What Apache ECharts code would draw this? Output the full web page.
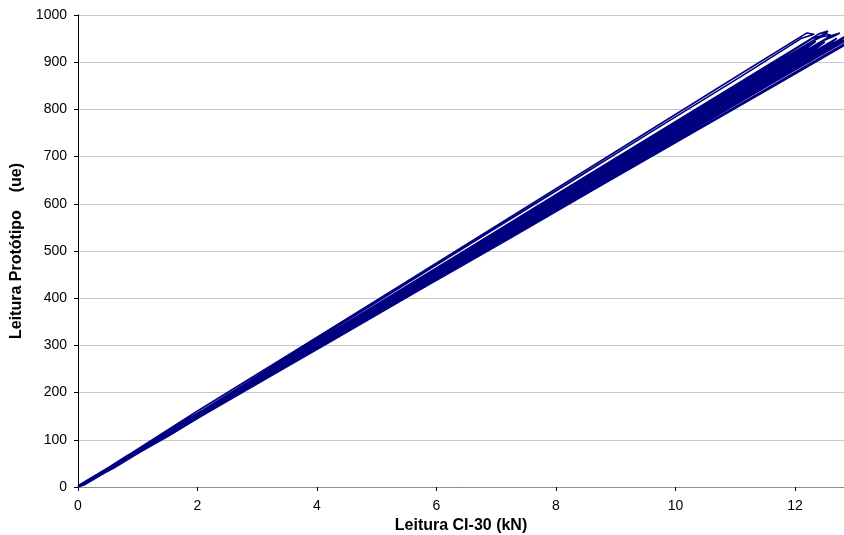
<!DOCTYPE html>
<html>
<head>
<meta charset="utf-8">
<script src="https://cdn.jsdelivr.net/npm/echarts@6/dist/echarts.min.js"></script>
<style>
  html, body { margin: 0; padding: 0; background: #fff; }
  #chart { width: 844px; height: 535px; }
</style>
</head>
<body>
<div id="chart"></div>
<script>
// Load cycles: each cycle is a loading branch followed by an unloading branch,
// pairs of [CI-30 reading (kN), prototype reading (ue)].
const cycleALoad = [[0,0],[0.8,64],[2.0,161],[3.5,278],[5.0,396],[6.5,514],[8.0,632],[9.5,750],[11.0,868],[12.2,962],[12.32,959]];
const cycleAUnload = [[12.1,950],[11.1,870],[9.6,753],[8.1,635],[6.6,518],[5.1,400],[3.6,282],[2.1,164],[0.9,72],[0,1]];
const cycleBLoad = [[0,0],[0.9,68],[2.1,163],[3.6,279],[5.1,395],[6.6,511],[8.1,627],[9.6,743],[11.1,859],[12.4,960],[12.55,966],[12.5,958]];
const cycleBUnload = [[12.3,951],[11.3,871],[9.8,755],[8.3,640],[6.8,524],[5.3,409],[3.8,293],[2.3,177],[1.1,86],[0.1,6]];
const cycleCLoad = [[0,3],[0.7,56],[1.9,146],[3.4,262],[4.9,377],[6.4,492],[7.9,607],[9.4,723],[10.9,838],[12.5,961],[12.6,957],[12.45,954]];
const cycleCUnload = [[12.35,948],[11.5,881],[10.0,766],[8.5,651],[7.0,536],[5.5,422],[4.0,306],[2.5,190],[1.2,90],[0,0]];
const cycleDLoad = [[0,0],[0.8,65],[2.0,155],[3.5,269],[5.0,382],[6.5,497],[8.0,611],[9.5,726],[11.0,840],[12.35,944]];
const cycleDUnload = [[12.2,930],[11.2,852],[9.7,738],[8.2,624],[6.7,510],[5.2,396],[3.7,282],[2.2,170],[1.0,78],[0.1,8]];
const cycleELoad = [[0,0],[0.6,43],[1.8,135],[3.3,250],[4.8,364],[6.3,478],[7.8,592],[9.3,706],[10.8,820],[12.6,956],[12.75,962],[12.65,955]];
const cycleEUnload = [[12.5,947],[12.1,915],[10.6,801],[9.1,688],[7.6,575],[6.1,461],[4.6,348],[3.1,234],[1.6,118],[0.4,28]];
const cycleFLoad = [[0,0],[0.9,70],[2.2,168],[3.7,279],[5.2,392],[6.7,505],[8.2,618],[9.7,731],[11.2,845],[12.5,943]];
const cycleFUnload = [[12.35,928],[11.3,849],[9.8,736],[8.3,623],[6.8,511],[5.3,398],[3.8,285],[2.3,170],[1.0,72],[0,0]];
const cycleGLoad = [[0,2],[0.7,50],[1.9,142],[3.4,255],[4.9,367],[6.4,479],[7.9,592],[9.4,704],[10.9,816],[12.7,951]];
const cycleGUnload = [[12.6,940],[11.9,888],[10.4,776],[8.9,664],[7.4,552],[5.9,440],[4.4,328],[2.9,216],[1.4,108],[0.2,15]];
const cycleHLoad = [[0,0],[0.8,60],[2.0,149],[3.5,260],[5.0,372],[6.5,484],[8.0,595],[9.5,707],[11.0,818],[12.85,956]];
const cycleHUnload = [[12.75,945],[12.0,889],[10.5,778],[9.0,667],[7.5,556],[6.0,445],[4.5,333],[3.0,222],[1.5,107],[0,0]];
const cycleILoad = [[0,0],[0.6,40],[1.8,133],[3.3,244],[4.8,355],[6.3,466],[7.8,576],[9.3,687],[10.8,798],[12.3,909],[12.95,957]];
const cycleIUnload = [[12.8,942],[11.6,854],[10.1,743],[8.6,633],[7.1,523],[5.6,412],[4.1,302],[2.6,191],[1.1,78],[0.1,4]];
const cycleJLoad = [[0,0],[0.7,49],[1.9,138],[3.4,248],[4.9,358],[6.4,468],[7.9,578],[9.4,688],[10.9,798],[12.4,908],[13.0,952]];
const cycleJUnload = [[12.9,941],[11.7,853],[10.2,744],[8.7,635],[7.2,525],[5.7,416],[4.2,306],[2.7,197],[1.2,86],[0,0]];

const cycles = [
  cycleALoad, cycleAUnload, cycleBLoad, cycleBUnload,
  cycleCLoad, cycleCUnload, cycleDLoad, cycleDUnload,
  cycleELoad, cycleEUnload, cycleFLoad, cycleFUnload,
  cycleGLoad, cycleGUnload, cycleHLoad, cycleHUnload,
  cycleILoad, cycleIUnload, cycleJLoad, cycleJUnload
];

const xTicks = [0, 2, 4, 6, 8, 10, 12];
const yTicks = [0, 100, 200, 300, 400, 500, 600, 700, 800, 900, 1000];

// the whole record is one continuous trace
const trace = [].concat(...cycles);

const font = 'Liberation Sans, Arial, sans-serif';
const chart = echarts.init(document.getElementById('chart'), null, { renderer: 'canvas' });

chart.setOption({
  animation: false,
  backgroundColor: '#ffffff',
  grid: { left: 78, right: 0, top: 15, bottom: 48, containLabel: false, outerBoundsMode: 'none' },
  xAxis: [{
    type: 'value',
    min: 0,
    max: 12.82,
    interval: 2,
    name: 'Leitura CI-30 (kN)',
    nameLocation: 'middle',
    nameGap: 30,
    nameTextStyle: { fontFamily: font, fontSize: 16, fontWeight: 'bold', color: '#000' },
    axisLine: { show: true, onZero: false, lineStyle: { color: '#000', width: 1 } },
    axisTick: { show: true, length: 4, lineStyle: { color: '#000' } },
    axisLabel: {
      fontFamily: font, fontSize: 14, color: '#000', margin: 12,
      showMaxLabel: false,
      formatter: v => (xTicks.indexOf(v) >= 0 ? String(v) : '')
    },
    splitLine: { show: false }
  }, {
    // plot-area top border
    type: 'value',
    position: 'top',
    min: 0,
    max: 12.82,
    axisLine: { show: true, lineStyle: { color: '#8c8c8c', width: 1 } },
    axisTick: { show: false },
    axisLabel: { show: false },
    splitLine: { show: false }
  }],
  yAxis: {
    type: 'value',
    min: 0,
    max: 1000,
    interval: 100,
    name: 'Leitura Protótipo    (ue)',
    nameLocation: 'middle',
    nameGap: 52,
    nameTextStyle: { fontFamily: font, fontSize: 16, fontWeight: 'bold', color: '#000' },
    axisLine: { show: true, lineStyle: { color: '#000', width: 1 } },
    axisTick: { show: true, length: 4, lineStyle: { color: '#000' } },
    axisLabel: {
      fontFamily: font, fontSize: 14, color: '#000', margin: 11,
      formatter: v => (yTicks.indexOf(v) >= 0 ? String(v) : '')
    },
    splitLine: { show: true, lineStyle: { color: '#c8c8c8', width: 1 } }
  },
  series: [{
    type: 'line',
    xAxisIndex: 0,
    data: trace,
    showSymbol: false,
    symbol: 'none',
    clip: true,
    lineStyle: { color: '#000080', width: 1.6 }
  }]
});
</script>
</body>
</html>
